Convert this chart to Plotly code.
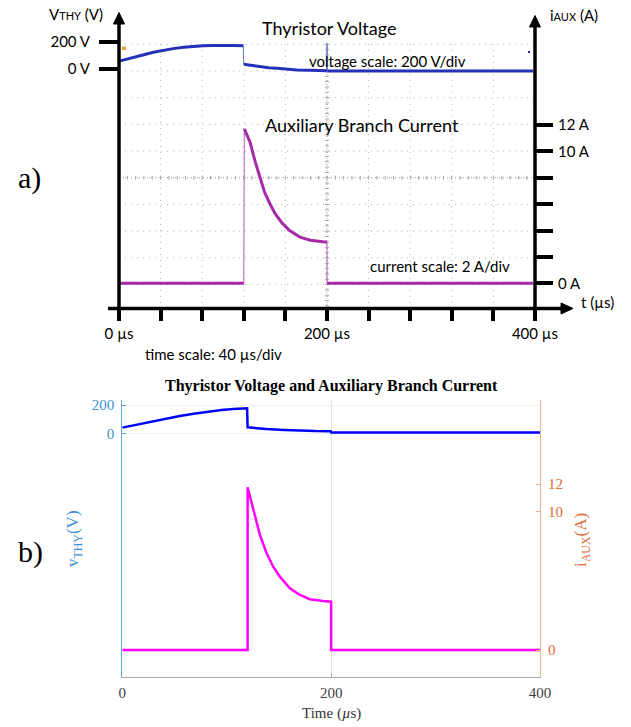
import plotly.graph_objects as go

W, H = 631, 727

# ---------------- data: panel a) oscilloscope capture ----------------
scope_time_v = [1, 12, 23, 33, 43, 52, 62, 71, 81, 90, 100, 110, 119.5,
                120, 128, 136, 144, 152, 161, 171, 184, 196, 199.8, 200, 200.3, 300, 398]
scope_volt = [60, 84, 104, 124, 141, 151, 161, 168, 173, 175, 176, 175, 172,
              35, 25, 17, 10, 5, -2, -7, -10, -12, -13, 190, -15, -15, -15]
scope_time_i = [1, 120, 120.5, 121, 126, 131, 136, 140, 145, 150, 156, 164, 174, 184, 198, 200, 200, 398]
scope_curr = [0, 0, 11.7, 11.6, 10.7, 9.2, 7.95, 6.9, 6.05, 5.3, 4.65, 4.0, 3.5, 3.27, 3.14, 3.14, 0, 0]

# tick labels panel a)
a_time_ticks = [0, 200, 400]
a_time_text = ["0 µs", "200 µs", "400 µs"]
a_time_minor = [40, 80, 120, 160, 240, 280, 320, 360]
a_volt_ticks = [0, 200]
a_volt_text = ["0 V", "200 V"]
a_curr_ticks = [0, 10, 12]
a_curr_text = ["0 A", "10 A", "12 A"]
a_curr_minor = [2, 4, 6, 8]

# ---------------- data: panel b) simulation ----------------
sim_time_v = [0, 13, 26.5, 40, 55, 70, 84, 95, 106, 119.5, 120, 130, 138, 155, 170, 185, 199.5, 200, 400]
sim_volt = [40, 60, 78, 100, 122, 140, 155, 165, 172, 177, 42, 35, 30, 24, 18, 16, 15, 5, 5]
sim_time_i = [0, 120, 120, 125.4, 131.8, 138.2, 144.5, 150.9, 160.5, 170.1, 179.6, 192.3, 200, 200, 400]
sim_curr = [0, 0, 11.76, 10.12, 8.32, 6.99, 6.02, 5.30, 4.46, 3.98, 3.67, 3.54, 3.49, 0, 0]

b_time_ticks = [0, 200, 400]
b_volt_ticks = [0, 200]
b_curr_ticks = [0, 10, 12]


def px(x):
    return x / W


def py(y):
    return 1 - y / H


def segments(ts, vs, cuts):
    """insert gaps after the given indices (for thin vertical edges)"""
    xs, ys = [], []
    for k, (t, v) in enumerate(zip(ts, vs)):
        xs.append(t)
        ys.append(v)
        if k in cuts:
            xs.append(None)
            ys.append(None)
    return xs, ys


SCOPE_BLUE = "#2330b8"
SCOPE_MAG = "#a62aa8"

fig = go.Figure()

# ---- panel a traces ----
fig.add_trace(go.Scatter(x=scope_time_v, y=scope_volt, xaxis="x3", yaxis="y3", mode="lines",
                         line=dict(color="#6a72c8", width=1), hoverinfo="skip"))
vx, vy = segments(scope_time_v, scope_volt, {12, 22})
vx = [None if (x is not None and 199.9 < x < 200.1) else x for x in vx]
fig.add_trace(go.Scatter(x=vx, y=vy, xaxis="x3", yaxis="y3", mode="lines", connectgaps=False,
                         line=dict(color=SCOPE_BLUE, width=3), hoverinfo="skip"))
fig.add_trace(go.Scatter(x=scope_time_i, y=scope_curr, xaxis="x3", yaxis="y4", mode="lines",
                         line=dict(color="#b860ba", width=1), hoverinfo="skip"))
ix, iy = segments(scope_time_i, scope_curr, {1, 15})
fig.add_trace(go.Scatter(x=ix, y=iy, xaxis="x3", yaxis="y4", mode="lines", connectgaps=False,
                         line=dict(color=SCOPE_MAG, width=3), hoverinfo="skip"))

# ---- panel b traces ----
fig.add_trace(go.Scatter(x=sim_time_v, y=sim_volt, xaxis="x", yaxis="y", mode="lines",
                         line=dict(color="#0000ff", width=2.5), hoverinfo="skip"))
fig.add_trace(go.Scatter(x=sim_time_i, y=sim_curr, xaxis="x", yaxis="y2", mode="lines",
                         line=dict(color="#ff00ff", width=2.5), hoverinfo="skip"))

# ---------------- axes geometry ----------------
A_L, A_R, A_T, A_B = 119, 535, 25, 308.5
V0_Y, V200_Y = 69, 42
I0_Y, I12_Y = 283.3, 125
pv = (V0_Y - V200_Y) / 200.0
pi_ = (I0_Y - I12_Y) / 12.0
a_vrange = [-(A_B - V0_Y) / pv, (V0_Y - A_T) / pv]
a_irange = [-(A_B - I0_Y) / pi_, (I0_Y - A_T) / pi_]

B_L, B_R, B_T, B_B = 122.3, 540, 400, 677.3
BV0, BV200 = 433.3, 405
BI0, BI12 = 650, 484
bpv = (BV0 - BV200) / 200.0
bpi = (BI0 - BI12) / 12.0
b_vrange = [-(B_B - BV0) / bpv, (BV0 - B_T) / bpv]
b_irange = [-(B_B - BI0) / bpi, (BI0 - B_T) / bpi]

CAL = "Lato"
SERIF = "Liberation Serif"
BLUE_AX = "#3b8fd4"
ORANGE_AX = "#dd6a33"

fig.update_layout(
    width=W, height=H, margin=dict(l=0, r=0, t=0, b=0, pad=0), autosize=False,
    paper_bgcolor="white", plot_bgcolor="rgba(0,0,0,0)", showlegend=False,
    xaxis3=dict(domain=[px(A_L), px(A_R)], anchor="y3", range=[0, 400], showline=False,
                automargin=False, showgrid=False, zeroline=False, ticks="outside", ticklen=11,
                tickwidth=4, tickcolor="black", tickvals=a_time_ticks, ticktext=a_time_text,
                minor=dict(tickmode="array", tickvals=a_time_minor, ticks="outside", ticklen=11,
                           tickwidth=4, tickcolor="black", showgrid=False),
                tickfont=dict(family=CAL, size=15, color="black"), ticklabelstandoff=0),
    yaxis3=dict(domain=[py(A_B), py(A_T)], anchor="x3", range=a_vrange, showline=False,
                automargin=False, showgrid=False, zeroline=False, ticks="outside", ticklen=19,
                tickwidth=4, tickcolor="black", tickvals=a_volt_ticks, ticktext=a_volt_text,
                tickfont=dict(family=CAL, size=15, color="black"), ticklabelstandoff=6),
    yaxis4=dict(overlaying="y3", anchor="x3", side="right", range=a_irange, showline=False,
                automargin=False, showgrid=False, zeroline=False, ticks="outside", ticklen=17,
                tickwidth=4, tickcolor="black", tickvals=a_curr_ticks, ticktext=a_curr_text,
                minor=dict(tickmode="array", tickvals=a_curr_minor, ticks="outside", ticklen=17,
                           tickwidth=4, tickcolor="black", showgrid=False),
                tickfont=dict(family=CAL, size=15, color="black"), ticklabelstandoff=2),
    xaxis=dict(domain=[px(B_L), px(B_R)], anchor="y", range=[0, 400], showline=True,
               automargin=False, linecolor="#a8a8a8", linewidth=1, mirror=False, showgrid=True,
               gridcolor="#e4e4e4", gridwidth=1, zeroline=False, ticks="inside", ticklen=4,
               tickcolor="#a8a8a8", tickvals=b_time_ticks,
               tickfont=dict(family=SERIF, size=15, color="#404040"), ticklabelstandoff=2),
    yaxis=dict(domain=[py(B_B), py(B_T)], anchor="x", range=b_vrange, showline=True,
               automargin=False, linecolor="#5aa6e0", linewidth=1, showgrid=True,
               gridcolor="#edf1f6", zeroline=False, ticks="inside", ticklen=4,
               tickcolor="#5aa6e0", tickvals=b_volt_ticks,
               tickfont=dict(family=SERIF, size=15, color=BLUE_AX), ticklabelstandoff=4),
    yaxis2=dict(overlaying="y", anchor="x", side="right", range=b_irange, showline=True,
                automargin=False, linecolor="#f2b08c", linewidth=1, showgrid=False,
                zeroline=False, ticks="inside", ticklen=4, tickcolor="#f2b08c",
                tickvals=b_curr_ticks,
                tickfont=dict(family=SERIF, size=15, color=ORANGE_AX), ticklabelstandoff=4),
)

# ---------------- shapes: scope grid, axes, arrows ----------------
shapes = []
GRID = "#b4b4b4"
div_x = (A_R - A_L) / 10.0
for k in range(1, 10):
    x = A_L + k * div_x
    shapes.append(dict(type="line", xref="paper", yref="paper", x0=px(x), x1=px(x),
                       y0=py(44), y1=py(A_B), layer="below",
                       line=dict(color=GRID, width=1, dash="1px,5px")))
for j in range(0, 10):
    y = 44.3 + j * 26.7
    shapes.append(dict(type="line", xref="paper", yref="paper", x0=px(A_L), x1=px(A_R),
                       y0=py(y), y1=py(y), layer="below",
                       line=dict(color=GRID, width=1, dash="1px,5px")))
path = ""
cx = A_L + 5 * div_x
cy = 177.7
xx = A_L
while xx <= A_R + 0.1:
    path += "M{:.4f},{:.4f}L{:.4f},{:.4f}".format(px(xx), py(cy - 2), px(xx), py(cy + 2))
    xx += div_x / 5
yy = 44.3
while yy <= A_B:
    path += "M{:.4f},{:.4f}L{:.4f},{:.4f}".format(px(cx - 2), py(yy), px(cx + 2), py(yy))
    yy += 26.7 / 5
shapes.append(dict(type="path", xref="paper", yref="paper", path=path, layer="below",
                   line=dict(color="#a8a8a8", width=1)))
shapes.append(dict(type="line", xref="paper", yref="paper", x0=px(A_L), x1=px(A_R),
                   y0=py(cy), y1=py(cy), layer="below",
                   line=dict(color="#a0a0a0", width=1, dash="1px,3px")))
shapes.append(dict(type="line", xref="paper", yref="paper", x0=px(cx), x1=px(cx),
                   y0=py(44), y1=py(A_B), layer="below",
                   line=dict(color="#a0a0a0", width=1, dash="1px,3px")))

AX_W = 3.5
shapes.append(dict(type="line", xref="paper", yref="paper", x0=px(A_L), x1=px(A_L),
                   y0=py(319), y1=py(20), line=dict(color="black", width=AX_W)))
shapes.append(dict(type="line", xref="paper", yref="paper", x0=px(A_R), x1=px(A_R),
                   y0=py(321), y1=py(23), line=dict(color="black", width=AX_W)))
shapes.append(dict(type="line", xref="paper", yref="paper", x0=px(108), x1=px(564),
                   y0=py(A_B), y1=py(A_B), line=dict(color="black", width=AX_W)))


def tri(p1, p2, p3):
    return "M{:.4f},{:.4f}L{:.4f},{:.4f}L{:.4f},{:.4f}Z".format(
        px(p1[0]), py(p1[1]), px(p2[0]), py(p2[1]), px(p3[0]), py(p3[1]))


for pth in [tri((A_L, 12.5), (A_L - 5.5, 24), (A_L + 5.5, 24)),
            tri((A_R, 15.5), (A_R - 5.5, 27), (A_R + 5.5, 27)),
            tri((573, A_B), (561, A_B - 5.5), (561, A_B + 5.5))]:
    shapes.append(dict(type="path", xref="paper", yref="paper", path=pth,
                       fillcolor="black", line=dict(color="black", width=1)))

shapes.append(dict(type="rect", xref="paper", yref="paper", x0=px(122), x1=px(126),
                   y0=py(50), y1=py(46.5), fillcolor="#f0a030", line=dict(width=0)))
shapes.append(dict(type="rect", xref="paper", yref="paper", x0=px(528), x1=px(530),
                   y0=py(53), y1=py(51), fillcolor=SCOPE_BLUE, line=dict(width=0)))
fig.update_layout(shapes=shapes)

# ---------------- annotations ----------------
ann = []


def text(t, x, y, size, family=CAL, color="black", xanchor="center", angle=0, yanchor="middle"):
    ann.append(dict(text=t, x=px(x), y=py(y), xref="paper", yref="paper", showarrow=False,
                    xanchor=xanchor, yanchor=yanchor, textangle=angle,
                    font=dict(family=family, size=size, color=color)))


text("V<span style='font-size:11px'>THY</span> (V)", 76, 14, 15)
text("i<span style='font-size:11px'>AUX</span> (A)", 574, 15, 15)
text("Thyristor Voltage", 329, 28, 18)
text("voltage scale: 200 V/div", 388, 61, 15)
text("Auxiliary Branch Current", 362, 125, 18)
text("current scale: 2 A/div", 440, 266, 15)
text("time scale: 40 µs/div", 213, 354, 15)
text("t (µs)", 597, 302, 15)
text("a)", 29, 178, 30, family=SERIF)
text("b)", 30, 552, 30, family=SERIF)
text("<b>Thyristor Voltage and Auxiliary Branch Current</b>", 331, 386, 16, family=SERIF)
text("v<sub>THY</sub>(V)", 74, 539, 17, family=SERIF, color=BLUE_AX, angle=-90)
text("i<sub>AUX</sub>(A)", 582, 540, 17, family=SERIF, color=ORANGE_AX, angle=-90)
text("Time (<i>µ</i>s)", 331, 713, 15, family=SERIF, color="#333333")
fig.update_layout(annotations=ann)

fig.write_html("out.html", config={"displayModeBar": False, "staticPlot": True},
               post_script="document.body.style.margin='0';document.body.style.padding='0';"
                           "document.documentElement.style.overflow='hidden';")
